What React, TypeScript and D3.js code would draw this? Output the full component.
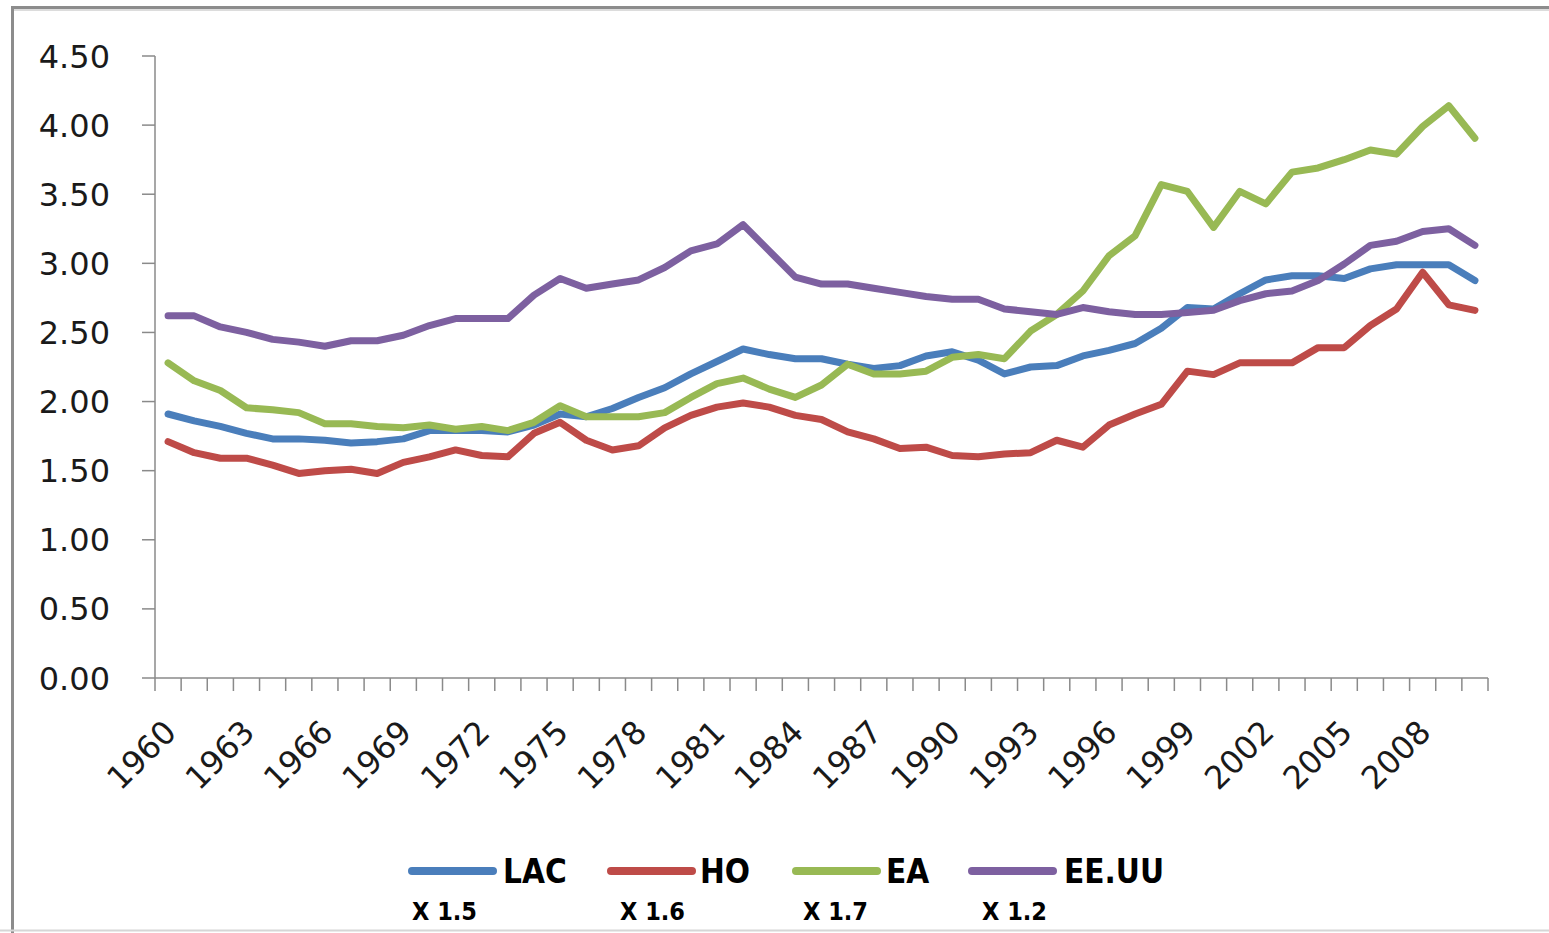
import React from "react";
import * as d3 from "d3";

const years: number[] = d3.range(1960, 2011);
const yTicks: number[] = [0, 0.5, 1, 1.5, 2, 2.5, 3, 3.5, 4, 4.5];
const xLabelYears: number[] = d3.range(1960, 2011, 3);

const LAC: number[] = [
  1.91, 1.86, 1.82, 1.77, 1.73, 1.73, 1.72, 1.70, 1.71, 1.73,
  1.79, 1.79, 1.79, 1.78, 1.83, 1.91, 1.89, 1.95, 2.03, 2.10,
  2.20, 2.29, 2.38, 2.34, 2.31, 2.31, 2.27, 2.24, 2.26, 2.33,
  2.36, 2.30, 2.20, 2.25, 2.26, 2.33, 2.37, 2.42, 2.53, 2.68,
  2.67, 2.78, 2.88, 2.91, 2.91, 2.89, 2.96, 2.99, 2.99, 2.99,
  2.875,
];
const HO: number[] = [
  1.71, 1.63, 1.59, 1.59, 1.54, 1.48, 1.50, 1.51, 1.48, 1.56,
  1.60, 1.65, 1.61, 1.60, 1.77, 1.85, 1.72, 1.65, 1.68, 1.81,
  1.90, 1.96, 1.99, 1.96, 1.90, 1.87, 1.78, 1.73, 1.66, 1.67,
  1.61, 1.60, 1.62, 1.63, 1.72, 1.67, 1.83, 1.91, 1.98, 2.22,
  2.195, 2.28, 2.28, 2.28, 2.39, 2.39, 2.55, 2.67, 2.935, 2.70,
  2.66,
];
const EA: number[] = [
  2.28, 2.15, 2.08, 1.955, 1.94, 1.92, 1.84, 1.84, 1.82, 1.81,
  1.83, 1.80, 1.82, 1.79, 1.85, 1.97, 1.89, 1.89, 1.89, 1.92,
  2.03, 2.13, 2.17, 2.09, 2.03, 2.12, 2.27, 2.20, 2.20, 2.22,
  2.32, 2.34, 2.31, 2.51, 2.63, 2.80, 3.055, 3.20, 3.57, 3.52,
  3.26, 3.52, 3.43, 3.66, 3.69, 3.75, 3.82, 3.79, 3.99, 4.14,
  3.905,
];
const EEUU: number[] = [
  2.62, 2.62, 2.54, 2.50, 2.45, 2.43, 2.40, 2.44, 2.44, 2.48,
  2.55, 2.60, 2.60, 2.60, 2.77, 2.89, 2.82, 2.85, 2.88, 2.97,
  3.09, 3.14, 3.28, 3.09, 2.90, 2.85, 2.85, 2.82, 2.79, 2.76,
  2.74, 2.74, 2.67, 2.65, 2.63, 2.68, 2.65, 2.63, 2.63, 2.645,
  2.66, 2.73, 2.78, 2.80, 2.875, 2.995, 3.13, 3.16, 3.23, 3.25,
  3.13,
];

const seriesNames: string[] = ["LAC", "HO", "EA", "EE.UU"];
const seriesFactors: string[] = ["X 1.5", "X 1.6", "X 1.7", "X 1.2"];
const seriesColors: string[] = ["#4A7EBB", "#BE4B48", "#98B954", "#7D60A0"];
const seriesData: number[][] = [LAC, HO, EA, EEUU];

export default function App() {
  const W = 1549;
  const H = 933;
  const left = 155;
  const right = 1488;
  const top = 56;
  const bottom = 678;

  const x = d3
    .scaleBand<number>()
    .domain(years)
    .range([left, right])
    .paddingInner(0)
    .paddingOuter(0);
  const cx = (yr: number) => (x(yr) as number) + x.bandwidth() / 2;
  const y = d3.scaleLinear().domain([0, 4.5]).range([bottom, top]);

  const line = d3
    .line<number>()
    .x((_, i) => cx(years[i]))
    .y((d) => y(d));

  const boundaries = d3.range(0, years.length + 1).map((i) => left + i * x.bandwidth());
  const axisColor = "#8a8a8a";

  // legend layout
  const legendLineX = [408, 607, 792, 968];
  const legendTextX = [503, 700, 886, 1064];
  const factorX = [412, 620, 803, 982];

  return (
    <svg
      width={W}
      height={H}
      style={{ position: "absolute", left: 0, top: 0, background: "#fff" }}
    >
      <rect x={0} y={0} width={W} height={H} fill="#fff" />
      {/* frame */}
      <line x1={11} x2={W} y1={7.5} y2={7.5} stroke="#8c8c8c" strokeWidth={3} />
      <line x1={11} x2={W} y1={10} y2={10} stroke="#d0d0d0" strokeWidth={1.5} />
      <line x1={12.5} x2={12.5} y1={6} y2={H} stroke="#8c8c8c" strokeWidth={3} />
      <line x1={0} x2={W} y1={930.5} y2={930.5} stroke="#d6d6d6" strokeWidth={2} />

      {/* y axis */}
      <line x1={left} x2={left} y1={top} y2={bottom} stroke={axisColor} strokeWidth={1.5} />
      {yTicks.map((t) => (
        <g key={t}>
          <line x1={142} x2={left} y1={y(t)} y2={y(t)} stroke={axisColor} strokeWidth={1.5} />
          <text
            x={110}
            y={y(t)}
            dy="0.36em"
            textAnchor="end"
            fontFamily="DejaVu Sans, Verdana, sans-serif"
            fontSize={32}
            fill="#1a1a1a"
          >
            {t.toFixed(2)}
          </text>
        </g>
      ))}

      {/* x axis */}
      <line x1={left} x2={right} y1={bottom} y2={bottom} stroke={axisColor} strokeWidth={1.5} />
      {boundaries.map((b, i) => (
        <line key={i} x1={b} x2={b} y1={bottom} y2={bottom + 13} stroke={axisColor} strokeWidth={1.5} />
      ))}
      {xLabelYears.map((yr) => (
        <text
          key={yr}
          transform={`translate(${cx(yr) + 10},${734}) rotate(-45)`}
          textAnchor="end"
          fontFamily="DejaVu Sans, Verdana, sans-serif"
          fontSize={32}
          fill="#1a1a1a"
        >
          {yr}
        </text>
      ))}

      {/* series */}
      {seriesData.map((s, i) => (
        <path
          key={seriesNames[i]}
          d={line(s) as string}
          fill="none"
          stroke={seriesColors[i]}
          strokeWidth={7}
          strokeLinejoin="round"
          strokeLinecap="round"
        />
      ))}

      {/* legend */}
      {seriesNames.map((n, i) => (
        <g key={n}>
          <line
            x1={legendLineX[i] + 4}
            x2={legendLineX[i] + 85}
            y1={871}
            y2={871}
            stroke={seriesColors[i]}
            strokeWidth={8}
            strokeLinecap="round"
          />
          <text
            x={legendTextX[i]}
            y={883}
            fontFamily="DejaVu Sans Condensed, DejaVu Sans, sans-serif"
            fontStretch="condensed"
            fontWeight="bold"
            fontSize={33}
            fill="#000"
          >
            {n}
          </text>
          <text
            x={factorX[i]}
            y={920}
            fontFamily="DejaVu Sans Condensed, DejaVu Sans, sans-serif"
            fontStretch="condensed"
            fontWeight="bold"
            fontSize={25}
            fill="#000"
          >
            {seriesFactors[i]}
          </text>
        </g>
      ))}
    </svg>
  );
}
